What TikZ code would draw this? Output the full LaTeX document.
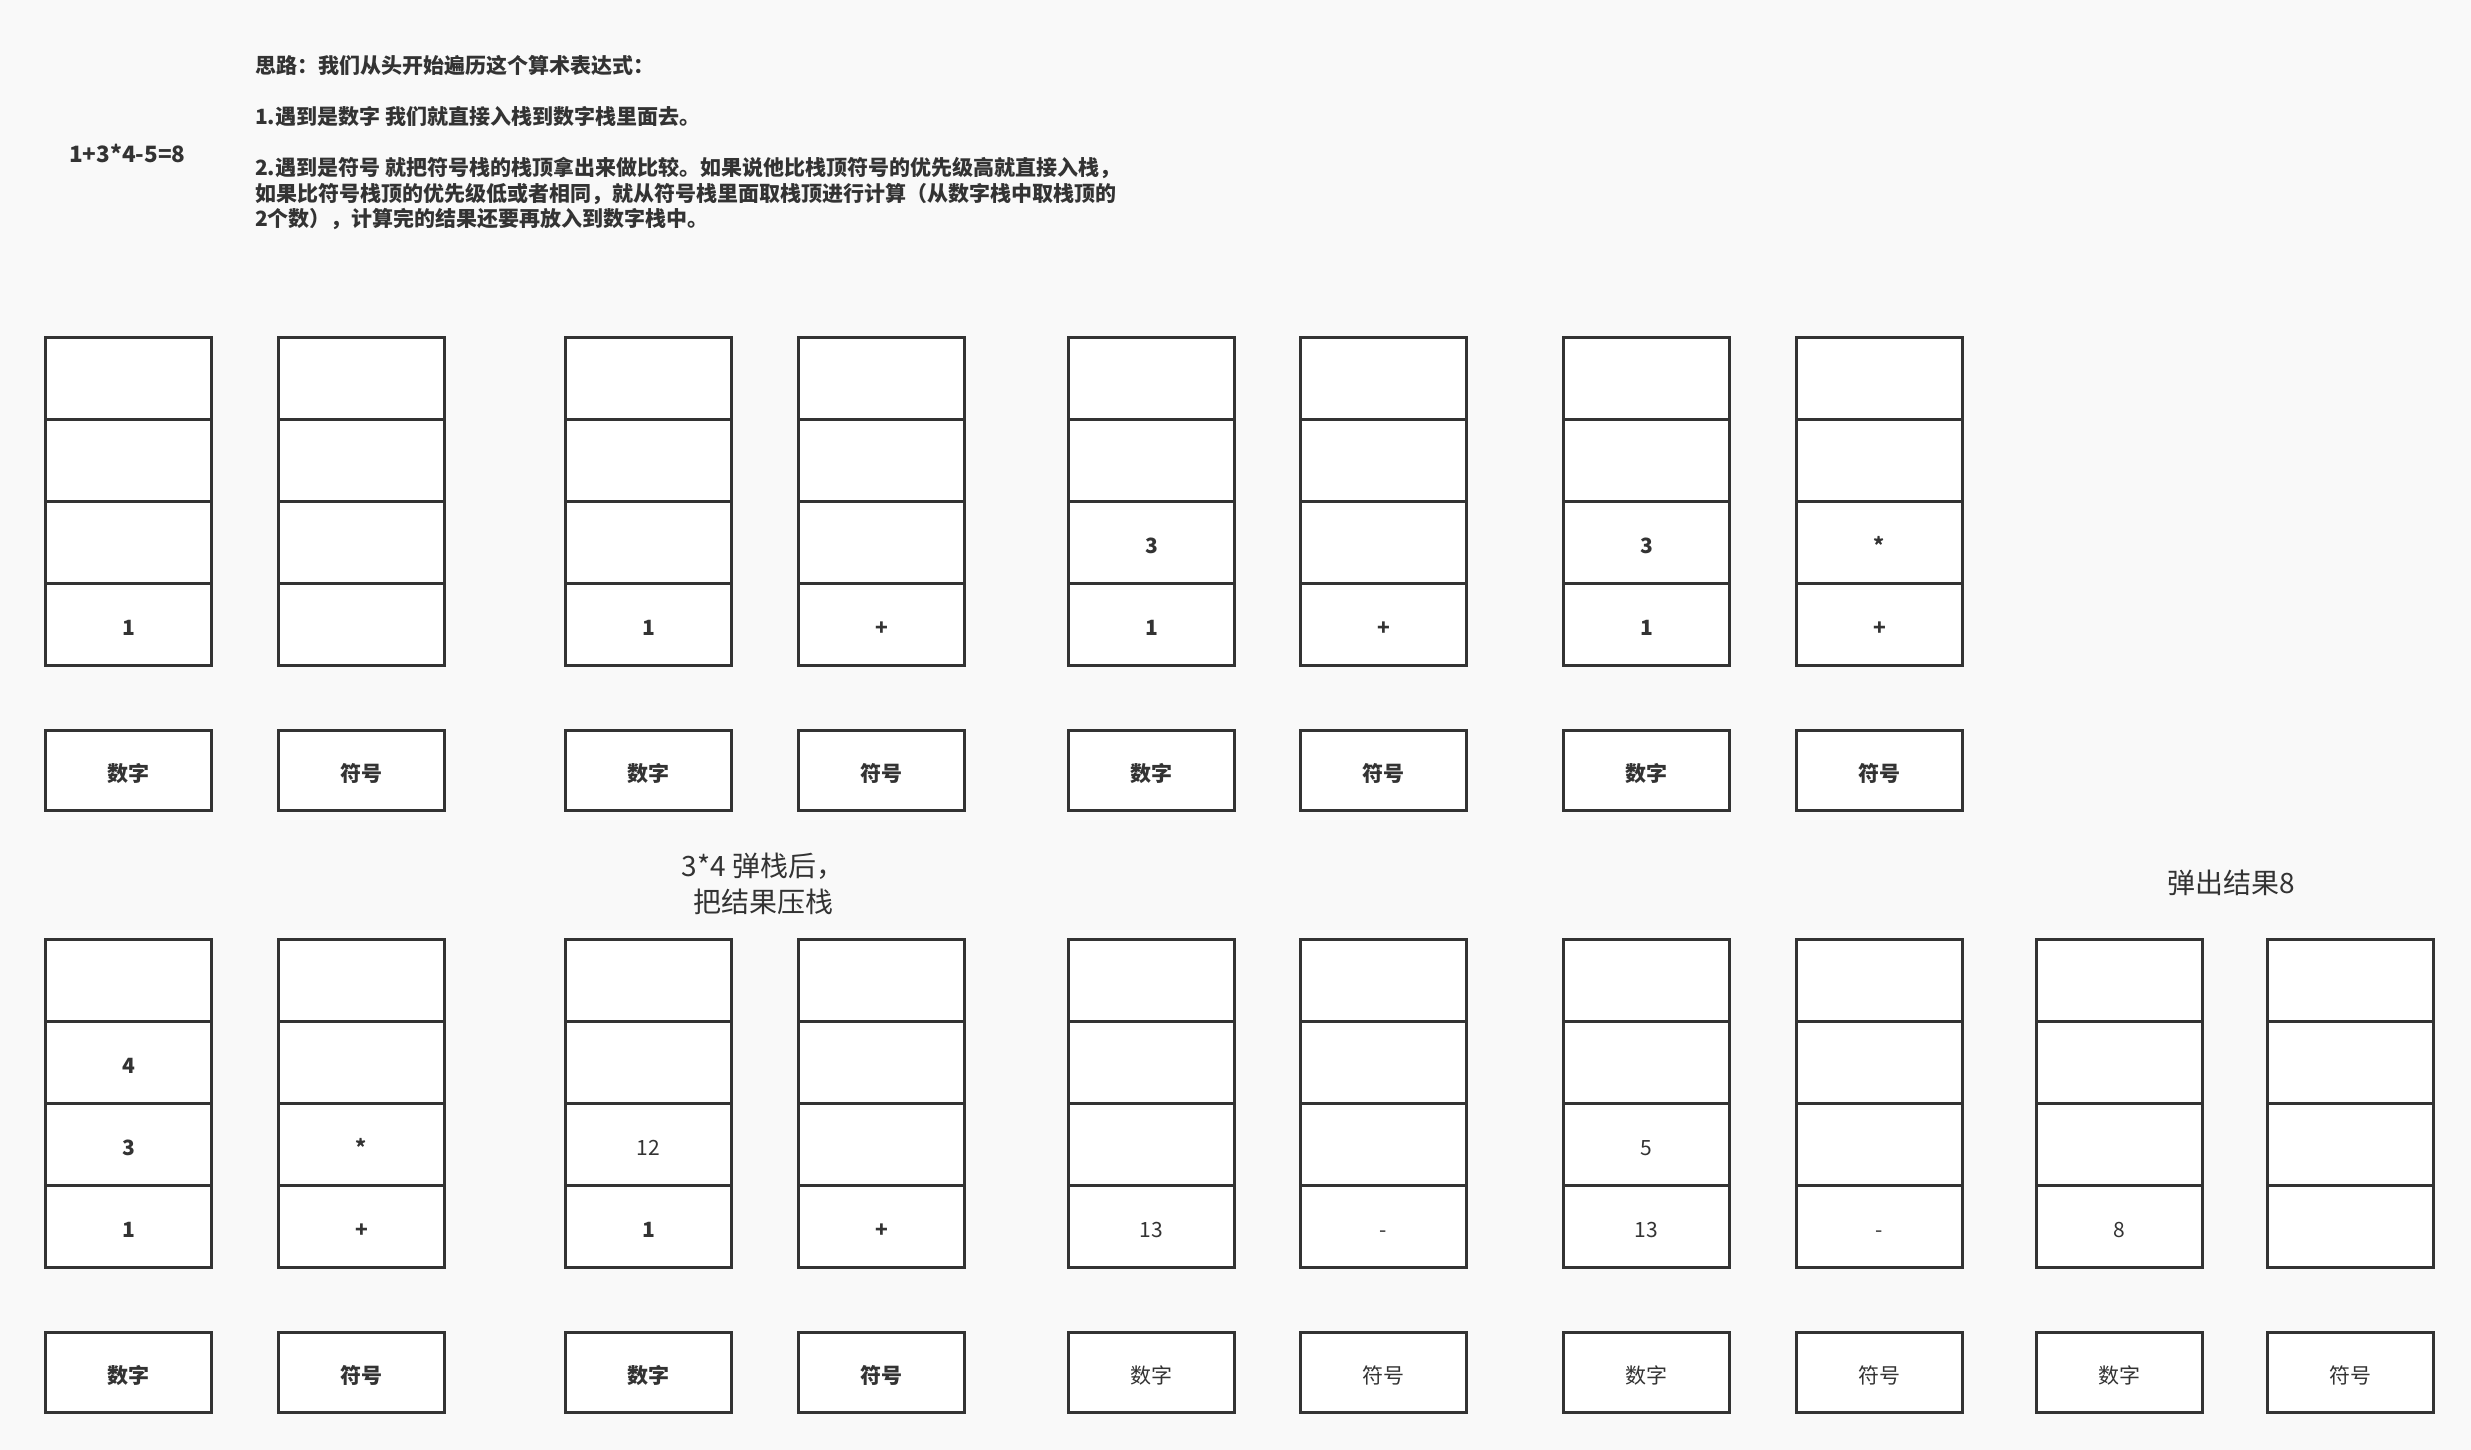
\documentclass[tikz,border=0pt]{standalone}
\usepackage{fontspec}
\setmainfont{Noto Sans CJK SC}
\definecolor{ink}{HTML}{333333}
\definecolor{bgc}{HTML}{F9F9F9}
\tikzset{
  cell/.style={draw=ink, line width=3pt, fill=white, anchor=north west,
    minimum width=166pt, minimum height=82pt, inner sep=0pt, outer sep=0pt,
    text height=21.4pt, text depth=0pt,
    text=ink, font=\fontsize{21}{25}\selectfont},
  bcell/.style={cell, font=\fontsize{21}{25}\selectfont\bfseries},
  lbl/.style={cell, minimum height=80pt},
  blbl/.style={bcell, minimum height=80pt},
  note/.style={anchor=west, inner sep=0pt, text=ink,
    font=\fontsize{21}{26}\selectfont\bfseries},
  ann/.style={inner sep=0pt, text=ink, align=center,
    font=\fontsize{28}{36}\selectfont}
}
% #1 name, #2 x, #3 y top, #4-#7 contents (top to bottom), #8 style
\newcommand{\mystack}[8]{%
  \node[#8] (#1a) at ({#2+1.5},{#3+1.5}) {#4};
  \node[#8] (#1b) at ({#2+1.5},{#3+83.5}) {#5};
  \node[#8] (#1c) at ({#2+1.5},{#3+165.5}) {#6};
  \node[#8] (#1d) at ({#2+1.5},{#3+247.5}) {#7};
}
\begin{document}
\begin{tikzpicture}[x=1pt,y=-1pt]
\useasboundingbox (0,0) rectangle (2471,1450);
\fill[bgc] (0,0) rectangle (2471,1450);

% notes
\node[note] (l1) at (255,66) {思路：我们从头开始遍历这个算术表达式：};
\node[note] (l2) at (255,117) {1.遇到是数字 我们就直接入栈到数字栈里面去。};
\node[note] (l3) at (255,168) {2.遇到是符号 就把符号栈的栈顶拿出来做比较。如果说他比栈顶符号的优先级高就直接入栈，};
\node[note] (l4) at (255,194) {如果比符号栈顶的优先级低或者相同，就从符号栈里面取栈顶进行计算（从数字栈中取栈顶的};
\node[note] (l5) at (255,219) {2个数），计算完的结果还要再放入到数字栈中。};
\node[note, font=\fontsize{22.5}{26}\selectfont\bfseries] (expr) at (69,153) {1+3*4-5=8};

% top row
\mystack{TAn}{44}{336}{}{}{}{1}{bcell}
\mystack{TAs}{277}{336}{}{}{}{}{bcell}
\mystack{TBn}{564}{336}{}{}{}{1}{bcell}
\mystack{TBs}{797}{336}{}{}{}{+}{bcell}
\mystack{TCn}{1067}{336}{}{}{3}{1}{bcell}
\mystack{TCs}{1299}{336}{}{}{}{+}{bcell}
\mystack{TDn}{1562}{336}{}{}{3}{1}{bcell}
\mystack{TDs}{1795}{336}{}{}{*}{+}{bcell}

\node[blbl] (TAnl) at (45.5,730.5) {数字};
\node[blbl] (TAsl) at (278.5,730.5) {符号};
\node[blbl] (TBnl) at (565.5,730.5) {数字};
\node[blbl] (TBsl) at (798.5,730.5) {符号};
\node[blbl] (TCnl) at (1068.5,730.5) {数字};
\node[blbl] (TCsl) at (1300.5,730.5) {符号};
\node[blbl] (TDnl) at (1563.5,730.5) {数字};
\node[blbl] (TDsl) at (1796.5,730.5) {符号};

% annotations
\node[ann] (ann1) at (763,884) {3*4 弹栈后，\\把结果压栈};
\node[ann] (ann2) at (2231,883) {弹出结果8};

% bottom row
\mystack{BAn}{44}{938}{}{4}{3}{1}{bcell}
\mystack{BAs}{277}{938}{}{}{*}{+}{bcell}
\mystack{BBn}{564}{938}{}{}{\mdseries 12}{1}{bcell}
\mystack{BBs}{797}{938}{}{}{}{+}{bcell}
\mystack{BCn}{1067}{938}{}{}{}{13}{cell}
\mystack{BCs}{1299}{938}{}{}{}{-}{cell}
\mystack{BDn}{1562}{938}{}{}{5}{13}{cell}
\mystack{BDs}{1795}{938}{}{}{}{-}{cell}
\mystack{BEn}{2035}{938}{}{}{}{8}{cell}
\mystack{BEs}{2266}{938}{}{}{}{}{cell}

\node[blbl] (BAnl) at (45.5,1332.5) {数字};
\node[blbl] (BAsl) at (278.5,1332.5) {符号};
\node[blbl] (BBnl) at (565.5,1332.5) {数字};
\node[blbl] (BBsl) at (798.5,1332.5) {符号};
\node[lbl] (BCnl) at (1068.5,1332.5) {数字};
\node[lbl] (BCsl) at (1300.5,1332.5) {符号};
\node[lbl] (BDnl) at (1563.5,1332.5) {数字};
\node[lbl] (BDsl) at (1796.5,1332.5) {符号};
\node[lbl] (BEnl) at (2036.5,1332.5) {数字};
\node[lbl] (BEsl) at (2267.5,1332.5) {符号};
\end{tikzpicture}
\end{document}
